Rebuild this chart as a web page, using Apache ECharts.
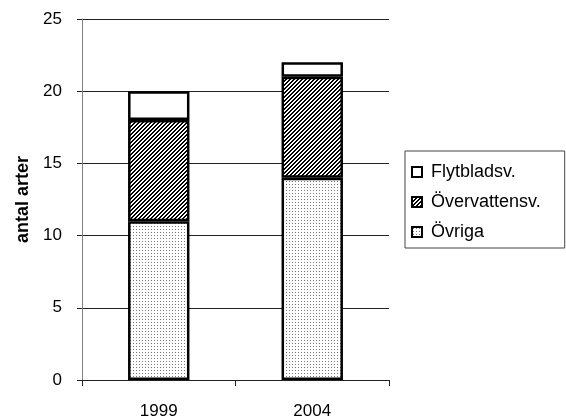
<!DOCTYPE html>
<html>
<head>
<meta charset="utf-8">
<script src="https://cdn.jsdelivr.net/npm/echarts@6/dist/echarts.min.js"></script>
<style>
  html, body { margin: 0; padding: 0; background: #fff; }
  #chart { width: 566px; height: 420px; }
</style>
</head>
<body>
<div id="chart"></div>
<script>
// data
var years = ['1999', '2004'];
var ovriga = [11, 14];
var overvatten = [7, 7];
var flytblad = [2, 1];
var seriesNames = ['Övriga', 'Övervattensv.', 'Flytbladsv.'];

// small fill patterns like the old spreadsheet chart
function makePattern(size, draw) {
  var c = document.createElement('canvas');
  c.width = size;
  c.height = size;
  var ctx = c.getContext('2d');
  ctx.fillStyle = '#fff';
  ctx.fillRect(0, 0, size, size);
  draw(ctx);
  return { image: c, repeat: 'repeat' };
}
var hatch = makePattern(4, function (ctx) {
  ctx.fillStyle = '#000';
  for (var x = 0; x < 4; x++) {
    for (var y = 0; y < 4; y++) {
      if ((x + y) % 4 < 2) ctx.fillRect(x, y, 1, 1);
    }
  }
});
var dots = makePattern(3, function (ctx) {
  ctx.fillStyle = '#777';
  ctx.fillRect(1, 1, 1, 1);
});

var chart = echarts.init(document.getElementById('chart'));

function barSeries(name, data, fill) {
  return {
    name: name,
    type: 'bar',
    stack: 'total',
    barWidth: '40%',
    data: data,
    itemStyle: { color: fill, borderColor: '#000', borderWidth: 2.5 }
  };
}

var option = {
  animation: false,
  textStyle: { fontFamily: 'Liberation Sans, Arial, sans-serif' },
  grid: { left: 82, right: 177, top: 19, bottom: 40 },
  legend: {
    orient: 'vertical',
    left: 405,
    top: 151,
    padding: [12, 24, 7, 6],
    itemGap: 12,
    itemWidth: 10,
    itemHeight: 10,
    icon: 'rect',
    borderColor: '#444',
    borderWidth: 1,
    data: ['Flytbladsv.', 'Övervattensv.', 'Övriga'],
    textStyle: { fontSize: 18, color: '#000', padding: [0, 0, 0, 4] }
  },
  xAxis: {
    type: 'category',
    data: years,
    axisLine: { lineStyle: { color: '#222', width: 1 } },
    axisTick: { show: true, length: 6, lineStyle: { color: '#222' } },
    axisLabel: { fontSize: 17, color: '#000', margin: 23 }
  },
  yAxis: {
    type: 'value',
    min: 0,
    max: 25,
    interval: 5,
    name: 'antal arter',
    nameLocation: 'middle',
    nameGap: 50,
    nameTextStyle: { fontSize: 18, fontWeight: 'bold', color: '#000' },
    axisLine: { show: true, lineStyle: { color: '#808080' } },
    axisTick: { show: true, length: 5, lineStyle: { color: '#222' } },
    axisLabel: { fontSize: 17, color: '#000', margin: 20 },
    splitLine: { show: true, lineStyle: { color: '#222', width: 1 } }
  },
  series: [
    barSeries(seriesNames[0], ovriga, dots),
    barSeries(seriesNames[1], overvatten, hatch),
    barSeries(seriesNames[2], flytblad, '#fff')
  ]
};
chart.setOption(option);
</script>
</body>
</html>
